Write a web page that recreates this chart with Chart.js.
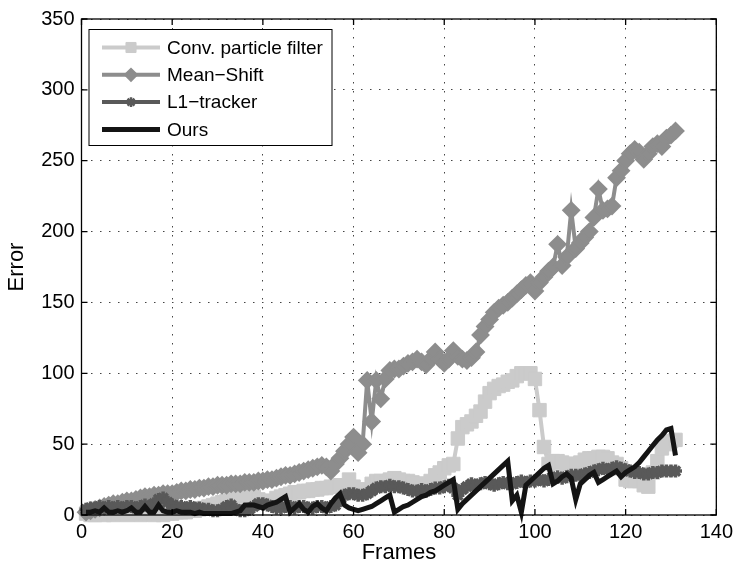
<!DOCTYPE html>
<html>
<head>
<meta charset="utf-8">
<script src="https://cdn.jsdelivr.net/npm/chart.js@4.4.0/dist/chart.umd.min.js"></script>
<style>
  html, body { margin: 0; padding: 0; background: #fff; }
  #wrap { width: 738px; height: 569px; position: relative; }
</style>
</head>
<body>
<div id="wrap"><canvas id="chart"></canvas></div>
<script>
// Frame numbers (x axis)
const frames = [
  1, 2, 3, 4, 5, 6, 7, 8, 9, 10, 11, 12, 13, 14, 15, 16, 17, 18, 19, 20,
  21, 22, 23, 24, 25, 26, 27, 28, 29, 30, 31, 32, 33, 34, 35, 36, 37, 38, 39, 40,
  41, 42, 43, 44, 45, 46, 47, 48, 49, 50, 51, 52, 53, 54, 55, 56, 57, 58, 59, 60,
  61, 62, 63, 64, 65, 66, 67, 68, 69, 70, 71, 72, 73, 74, 75, 76, 77, 78, 79, 80,
  81, 82, 83, 84, 85, 86, 87, 88, 89, 90, 91, 92, 93, 94, 95, 96, 97, 98, 99, 100,
  101, 102, 103, 104, 105, 106, 107, 108, 109, 110, 111, 112, 113, 114, 115, 116, 117, 118, 119, 120,
  121, 122, 123, 124, 125, 126, 127, 128, 129, 130, 131
];

// Error per frame
const convParticle = [
  1, 0, 0, 1, 0, 1, 0, 1, 1, 0,
  1, 1, 0, 1, 1, 0, 1, 0, 1, 1,
  2, 2, 2, 3, 3, 4, 5, 6, 7, 8,
  9, 10, 12, 13, 14, 15, 14, 13, 11, 10,
  9, 10, 12, 13, 14, 15, 16, 16, 17, 17,
  18, 18, 19, 19, 20, 20, 21, 21, 25, 20,
  18, 17, 18, 22, 24, 24, 23, 25, 26, 25,
  24, 24, 23, 22, 22, 22, 24, 28, 30, 33,
  35, 36, 54, 62, 64, 66, 70, 73, 80, 86,
  89, 91, 92, 94, 95, 98, 100, 100, 100, 96,
  74, 48, 36, 38, 38, 37, 36, 36, 36, 37,
  39, 40, 40, 41, 41, 40, 37, 36, 33, 25,
  24, 24, 24, 21, 20, 30, 38, 47, 50, 52,
  53
];

const meanShift = [
  2, 3, 4, 5, 6, 7, 8, 8, 9, 10,
  10, 11, 12, 13, 13, 14, 14, 15, 15, 15,
  16, 17, 17, 18, 18, 19, 19, 20, 20, 21,
  21, 21, 22, 22, 22, 23, 23, 23, 24, 24,
  25, 25, 26, 27, 28, 28, 29, 30, 31, 32,
  33, 34, 35, 34, 31, 36, 40, 45, 50, 55,
  44, 50, 95, 66, 95, 82, 96, 102, 103, 103,
  105, 107, 108, 110, 108, 106, 110, 115, 110, 107,
  110, 116, 112, 110, 109, 111, 115, 127, 133, 138,
  143, 146, 148, 150, 153, 156, 159, 162, 164, 158,
  164, 168, 172, 175, 191, 176, 182, 215, 188, 192,
  196, 200, 210, 230, 215, 216, 218, 238, 243, 250,
  255, 258, 256, 251, 255, 260, 262, 260, 266, 268,
  271
];

const l1Tracker = [
  4, 5, 5, 6, 5, 6, 5, 6, 5, 6,
  6, 5, 6, 7, 6, 8, 11, 12, 9, 7,
  6, 6, 5, 6, 5, 5, 4, 4, 3, 3,
  4, 6, 7, 4, 3, 3, 4, 6, 8, 8,
  7, 6, 5, 5, 6, 6, 5, 6, 6, 5,
  5, 6, 6, 5, 6, 7, 10, 14, 15, 15,
  14, 14, 15, 17, 19, 20, 20, 21, 20, 20,
  19, 18, 17, 17, 18, 17, 18, 19, 19, 20,
  21, 19, 14, 18, 20, 22, 21, 22, 23, 22,
  21, 22, 23, 22, 22, 23, 24, 23, 24, 24,
  25, 24, 25, 26, 27, 26, 27, 28, 28, 28,
  29, 30, 31, 32, 33, 32, 33, 34, 33, 32,
  31, 30, 30, 29, 29, 30, 30, 31, 31, 31,
  31
];

const ours = [
  2, 2, 3, 2, 5, 2, 2, 3, 2, 3,
  5, 2, 2, 6, 2, 2, 7, 3, 2, 2,
  3, 2, 2, 2, 1, 2, 1, 1, 1, 1,
  1, 1, 1, 2, 3, 7, 7, 7, 6, 5,
  7, 8, 9, 11, 13, 2, 5, 8, 4, 2,
  6, 8, 5, 3, 8, 12, 15, 7, 5, 4,
  3, 4, 5, 6, 8, 10, 12, 14, 2, 4,
  6, 7, 9, 11, 13, 14, 16, 17, 19, 21,
  23, 25, 4, 8, 11, 14, 17, 20, 23, 26,
  29, 32, 35, 38, 10, 14, 2, 21, 24, 27,
  30, 33, 35, 22, 24, 27, 29, 26, 11, 22,
  25, 28, 30, 23, 25, 27, 29, 31, 27, 30,
  32, 34, 37, 41, 45, 49, 53, 56, 60, 61,
  42
];

const seriesNames = ['Conv. particle filter', 'Mean\u2212Shift', 'L1\u2212tracker', 'Ours'];
const xTicks = [0, 20, 40, 60, 80, 100, 120, 140];
const yTicks = [0, 50, 100, 150, 200, 250, 300, 350];

const FONT = '"Liberation Sans", Arial, Helvetica, sans-serif';

function toPoints(values) {
  return values.map((v, i) => ({ x: frames[i], y: v }));
}

function makeSeries(label, values, color, style, radius, pointBorder, lineWidth, order) {
  return {
    label: label,
    data: toPoints(values),
    borderColor: color,
    backgroundColor: color,
    borderWidth: lineWidth,
    pointStyle: style,
    pointRadius: radius,
    pointBorderWidth: pointBorder,
    pointBackgroundColor: color,
    pointBorderColor: color,
    pointHoverRadius: radius,
    tension: 0,
    clip: false,
    order: order
  };
}

// Box around the axes, inward ticks and the legend inside the plot
const matlabFrame = {
  id: 'matlabFrame',
  afterDatasetsDraw(chart) {
    const { ctx, chartArea: a, scales: { x, y } } = chart;
    ctx.save();
    ctx.strokeStyle = '#000';
    ctx.lineWidth = 1.3;
    ctx.strokeRect(a.left, a.top, a.right - a.left, a.bottom - a.top);

    ctx.beginPath();
    x.ticks.forEach(t => {
      const px = x.getPixelForValue(t.value);
      ctx.moveTo(px, a.bottom); ctx.lineTo(px, a.bottom - 6);
      ctx.moveTo(px, a.top); ctx.lineTo(px, a.top + 6);
    });
    y.ticks.forEach(t => {
      const py = y.getPixelForValue(t.value);
      ctx.moveTo(a.left, py); ctx.lineTo(a.left + 6, py);
      ctx.moveTo(a.right, py); ctx.lineTo(a.right - 6, py);
    });
    ctx.stroke();

    // legend
    const boxX = a.left + 7.5;
    const boxY = a.top + 10.5;
    const boxW = 243;
    const boxH = 116;
    ctx.fillStyle = '#fff';
    ctx.fillRect(boxX, boxY, boxW, boxH);
    ctx.lineWidth = 1;
    ctx.strokeStyle = '#000';
    ctx.strokeRect(boxX, boxY, boxW, boxH);

    ctx.font = '19px ' + FONT;
    ctx.textBaseline = 'middle';
    ctx.textAlign = 'left';
    chart.data.datasets.forEach((ds, i) => {
      const rowY = boxY + 18 + i * 27.3;
      const x0 = boxX + 13;
      const x1 = boxX + 71;
      ctx.strokeStyle = ds.borderColor;
      ctx.lineWidth = ds.borderWidth;
      ctx.beginPath();
      ctx.moveTo(x0, rowY);
      ctx.lineTo(x1, rowY);
      ctx.stroke();
      if (ds.pointRadius > 0) {
        ctx.fillStyle = ds.pointBackgroundColor;
        ctx.strokeStyle = ds.pointBorderColor;
        ctx.lineWidth = Math.min(ds.pointBorderWidth, 2.5);
        Chart.helpers.drawPoint(ctx, {
          pointStyle: ds.pointStyle,
          radius: ds.pointRadius * 0.75,
          rotation: 0,
          borderWidth: Math.min(ds.pointBorderWidth, 2.5)
        }, (x0 + x1) / 2, rowY);
      }
      ctx.fillStyle = '#000';
      ctx.fillText(ds.label, boxX + 78, rowY + 1);
    });
    ctx.restore();
  }
};

new Chart(document.getElementById('chart'), {
  type: 'line',
  data: {
    datasets: [
      makeSeries(seriesNames[0], convParticle, '#cbcbcb', 'rect', 9.5, 1, 4, 4),
      makeSeries(seriesNames[1], meanShift, '#8d8d8d', 'rectRot', 8, 2, 4, 3),
      makeSeries(seriesNames[2], l1Tracker, '#595959', 'star', 6.5, 3.5, 4, 2),
      makeSeries(seriesNames[3], ours, '#141414', 'circle', 0, 0, 5, 1)
    ]
  },
  options: {
    responsive: true,
    maintainAspectRatio: false,
    animation: false,
    layout: { padding: { left: 0, right: 16, top: 12, bottom: 0 } },
    plugins: {
      legend: { display: false },
      tooltip: { enabled: false }
    },
    scales: {
      x: {
        type: 'linear',
        min: 0,
        max: 140,
        afterBuildTicks: scale => { scale.ticks = xTicks.map(v => ({ value: v })); },
        afterFit: scale => { scale.height = 54; },
        grid: { color: '#444', lineWidth: 1, drawTicks: false },
        border: { display: false, dash: [1.5, 7.5] },
        ticks: { color: '#000', padding: 5, maxRotation: 0, font: { family: FONT, size: 20 } },
        title: {
          display: true,
          text: 'Frames',
          color: '#000',
          padding: { top: 0, bottom: 3 },
          font: { family: FONT, size: 22 }
        }
      },
      y: {
        type: 'linear',
        min: 0,
        max: 350,
        afterBuildTicks: scale => { scale.ticks = yTicks.map(v => ({ value: v })); },
        afterFit: scale => { scale.width = 81.5; },
        grid: { color: '#444', lineWidth: 1, drawTicks: false },
        border: { display: false, dash: [1.5, 7.5] },
        ticks: { color: '#000', padding: 7, font: { family: FONT, size: 20 } },
        title: {
          display: true,
          text: 'Error',
          color: '#000',
          padding: { top: 4, bottom: 0 },
          font: { family: FONT, size: 22 }
        }
      }
    }
  },
  plugins: [matlabFrame]
});
</script>
</body>
</html>
